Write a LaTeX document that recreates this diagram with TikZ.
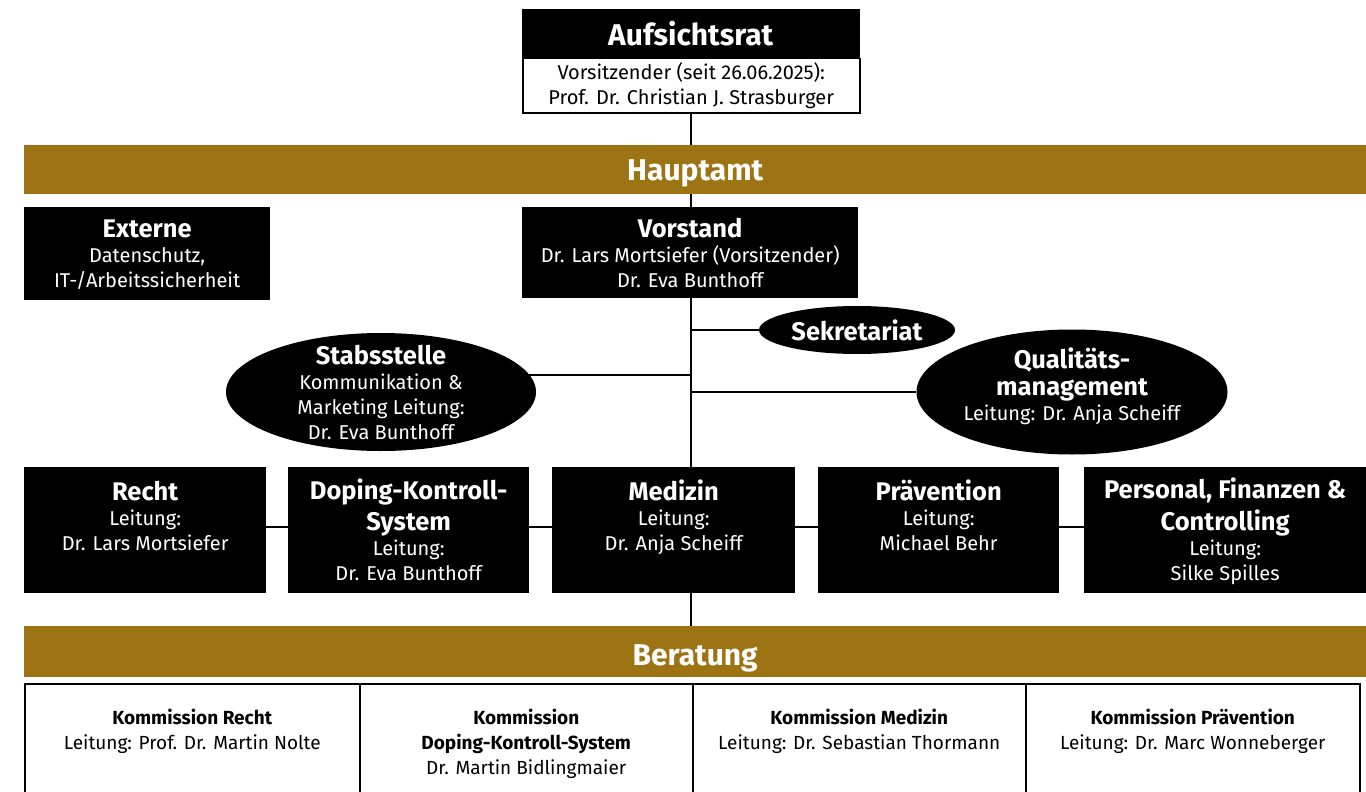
\documentclass[tikz,border=0pt]{standalone}
\usepackage{fontspec}
\setmainfont{Fira Sans}
\usetikzlibrary{shapes.geometric,backgrounds,calc}
\definecolor{hagold}{RGB}{157,116,19}
\newcommand{\ttl}{\fontsize{25.5}{31}\selectfont\bfseries}
\newcommand{\txt}{\fontsize{20}{25}\selectfont}

\begin{document}
\begin{tikzpicture}[x=1pt,y=-1pt,
  blk/.style={fill=black,text=white,align=center,anchor=north west,inner sep=0pt,font=\txt},
  bar/.style={fill=hagold,text=white,anchor=north west,inner sep=0pt,minimum width=1342pt,
    text height=21pt,text depth=0pt,font=\fontsize{30}{34}\selectfont\bfseries},
  oval/.style={ellipse,fill=black,text=white,align=center,inner sep=0pt,font=\txt},
  ovaltext/.style={text=white,align=center,inner sep=0pt,font=\txt},
  kom/.style={draw=black,line width=1.5pt,fill=white,align=center,anchor=north west,inner sep=0pt,
    minimum height=130pt,font=\fontsize{19}{25}\selectfont},
  link/.style={line width=2pt}]
  \useasboundingbox (0,0) rectangle (1366,792);

  \node[blk,draw=black,minimum width=337pt,minimum height=49pt,font=\fontsize{30}{34}\selectfont\bfseries]
    (aufs-head) at (522,9) {Aufsichtsrat};
  \node[draw=black,line width=1.5pt,fill=white,anchor=north west,minimum width=337pt,minimum height=54pt,
    align=center,inner sep=0pt,font=\txt] (aufs) at (522,58)
    {Vorsitzender (seit 26.06.2025):\\Prof. Dr. Christian J. Strasburger};

  \node[bar,minimum height=49pt] (haupt) at (24,145) {Hauptamt};

  \node[blk,minimum width=246pt,text height=80pt,text depth=13pt] (ext) at (24,207)
    {{\ttl Externe}\\Datenschutz,\\IT-/Arbeitssicherheit};
  \node[blk,minimum width=336pt,text height=80pt,text depth=11pt] (vor) at (522,207)
    {{\ttl Vorstand}\\Dr. Lars Mortsiefer (Vorsitzender)\\Dr. Eva Bunthoff};

  \node[oval,minimum width=196pt,minimum height=48pt] (sek) at (857,330) {\ttl Sekretariat};
  \node[oval,minimum width=310pt,minimum height=118pt] (stab) at (381,392) {};
  \node[ovaltext] (stab-txt) at (stab)
    {{\ttl Stabsstelle}\\Kommunikation \&\\Marketing Leitung:\\Dr. Eva Bunthoff};
  \node[oval,minimum width=311pt,minimum height=125pt] (qm) at (1072,392) {};
  \node[ovaltext,yshift=6pt] (qm-txt) at (qm)
    {{\ttl Qualitäts-}\\[2pt]{\ttl management}\\Leitung: Dr. Anja Scheiff};

  \node[blk,minimum width=242pt,text height=83pt,text depth=43pt] (recht) at (24,467)
    {{\ttl Recht}\\Leitung:\\Dr. Lars Mortsiefer};
  \node[blk,minimum width=241pt,text height=113pt,text depth=13pt] (dks) at (288,467)
    {{\ttl Doping-Kontroll-}\\[6pt]{\ttl System}\\Leitung:\\Dr. Eva Bunthoff};
  \node[blk,minimum width=243pt,text height=83pt,text depth=43pt] (med) at (552,467)
    {{\ttl Medizin}\\Leitung:\\Dr. Anja Scheiff};
  \node[blk,minimum width=241pt,text height=83pt,text depth=43pt] (prae) at (818,467)
    {{\ttl Prävention}\\Leitung:\\Michael Behr};
  \node[blk,minimum width=282pt,text height=113pt,text depth=13pt] (pfc) at (1084,467)
    {{\ttl Personal, Finanzen \&}\\[6pt]{\ttl Controlling}\\Leitung:\\Silke Spilles};

  \node[bar,minimum height=51pt,text height=27pt] (ber) at (24,626) {Beratung};

  \node[kom,minimum width=335pt,text height=66pt,text depth=64pt] (k-recht) at (24,683)
    {{\bfseries Kommission Recht}\\Leitung: Prof. Dr. Martin Nolte};
  \node[kom,minimum width=333pt,text height=91pt,text depth=39pt] (k-dks) at (359,683)
    {{\bfseries Kommission}\\{\bfseries Doping-Kontroll-System}\\Dr. Martin Bidlingmaier};
  \node[kom,minimum width=333pt,text height=66pt,text depth=64pt] (k-med) at (692,683)
    {{\bfseries Kommission Medizin}\\Leitung: Dr. Sebastian Thormann};
  \node[kom,minimum width=334pt,text height=66pt,text depth=64pt] (k-prae) at (1025,683)
    {{\bfseries Kommission Prävention}\\Leitung: Dr. Marc Wonneberger};

  \begin{scope}[on background layer]
    \draw[link] (aufs.south) -- (aufs.south |- ber.north);
    \draw[link] (aufs.south |- sek.west) -- (sek.west);
    \draw[link] ($(stab.center)+(0,-17)$) -- ($(aufs.south |- stab.center)+(0,-17)$);
    \draw[link] (qm.west) -- (aufs.south |- qm.west);
    \draw[link] ([yshift=3pt]recht.center) -- ([yshift=3pt]pfc.center);
  \end{scope}
\end{tikzpicture}
\end{document}
